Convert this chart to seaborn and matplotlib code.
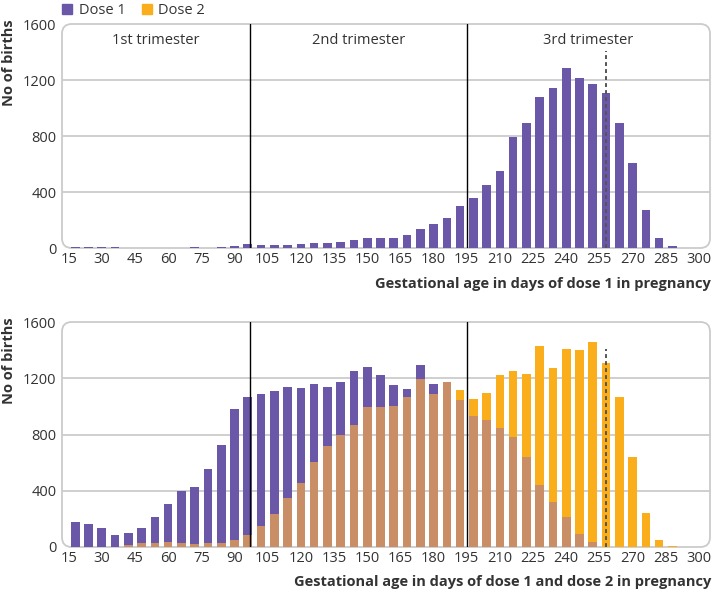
import numpy as np
import pandas as pd
import matplotlib
matplotlib.use("Agg")
import matplotlib.pyplot as plt
import matplotlib.transforms as mtransforms
from matplotlib.patches import FancyBboxPatch, Patch
import seaborn as sns

sns.set_theme(style="white")
plt.rcParams['font.family'] = ['Open Sans', 'DejaVu Sans']

# ---------------- data ----------------
days = [18, 24, 30, 36, 42, 48, 54, 60, 66, 72, 78, 84, 90, 96, 102, 108,
        114, 120, 126, 132, 138, 144, 150, 156, 162, 168, 174, 180, 186,
        192, 198, 204, 210, 216, 222, 228, 234, 240, 246, 252, 258, 264,
        270, 276, 282, 288]

top_dose1 = [10, 10, 7, 5, 0, 0, 0, 0, 0, 5, 0, 7, 12, 26, 19, 19,
             18, 30, 36, 36, 43, 55, 69, 74, 74, 90, 136, 169, 214,
             298, 357, 450, 550, 795, 890, 1079, 1145, 1288, 1217, 1174, 1110, 893,
             605, 269, 74, 14]

bottom_dose1 = [176, 162, 136, 83, 98, 136, 212, 305, 398, 424, 555, 726, 979, 1064, 1086, 1107,
                1140, 1131, 1162, 1140, 1176, 1252, 1283, 1221, 1150, 1124, 1293, 1162, 1172,
                1043, 929, 902, 843, 781, 643, 440, 319, 214, 95, 36, 0, 0,
                0, 0, 0, 0]

bottom_dose2 = [0, 0, 0, 0, 17, 29, 29, 36, 29, 19, 29, 29, 48, 88, 150, 236,
                345, 455, 607, 719, 800, 871, 993, 993, 1002, 1067, 1195, 1090, 1172,
                1114, 1052, 1095, 1221, 1255, 1229, 1431, 1276, 1407, 1398, 1455, 1310, 1064,
                643, 243, 50, 7]

x_ticks = [15, 30, 45, 60, 75, 90, 105, 120, 135, 150, 165, 180, 195, 210,
           225, 240, 255, 270, 285, 300]
y_ticks = [0, 400, 800, 1200, 1600]
trimester_labels = ["1st trimester", "2nd trimester", "3rd trimester"]
trimester_bounds = [97, 195]
term_day = 258
legend_labels = ["Dose 1", "Dose 2"]
y_label = "No of births"
x_label_top = "Gestational age in days of dose 1 in pregnancy"
x_label_bottom = "Gestational age in days of dose 1 and dose 2 in pregnancy"

# ---------------- style ----------------
PURPLE = "#6b57a8"
ORANGE = "#fbae1b"
BROWN = "#c98e66"
GRID = "#cbcbcb"
TEXT = "#333333"
XMIN, XMAX = 12, 305
FS = 10.5

W, H = 712, 593
fig = plt.figure(figsize=(W / 100, H / 100), dpi=100)


def ax_rect(l, t, r, b):
    return [l / W, 1 - b / H, (r - l) / W, (b - t) / H]


ax1 = fig.add_axes(ax_rect(62, 24, 710, 248))
ax2 = fig.add_axes(ax_rect(62, 322, 710, 547))

bar_kw = dict(native_scale=True, width=0.65, saturation=1, zorder=2,
              linewidth=0, edgecolor="none")

df_top = pd.DataFrame({"day": days, "n": top_dose1})
df_top = df_top[df_top["n"] > 0]
sns.barplot(data=df_top, x="day", y="n", color=PURPLE, ax=ax1, **bar_kw)

df_bot = pd.DataFrame({"day": days, "d1": bottom_dose1, "d2": bottom_dose2})
df_bot["both"] = np.minimum(df_bot["d1"], df_bot["d2"])
for col, colr in [("d1", PURPLE), ("d2", ORANGE), ("both", BROWN)]:
    sub = df_bot[df_bot[col] > 0]
    sns.barplot(data=sub, x="day", y=col, color=colr, ax=ax2, **bar_kw)


def style(ax):
    ax.set_xlim(XMIN, XMAX)
    ax.set_ylim(0, 1600)
    ax.set_xticks(x_ticks)
    ax.set_xticklabels([str(t) for t in x_ticks])
    ax.set_yticks(y_ticks)
    ax.set_yticklabels([str(t) for t in y_ticks])
    ax.tick_params(axis="both", length=0, labelsize=FS, colors=TEXT)
    ax.tick_params(axis="x", pad=3)
    ax.tick_params(axis="y", pad=4)
    ax.set_xlabel("")
    ax.set_ylabel("")
    ax.grid(False)
    for s in ax.spines.values():
        s.set_visible(False)
    for y in y_ticks[1:-1]:
        ax.axhline(y, color=GRID, lw=1.3, zorder=1)
    frame = FancyBboxPatch((0, 0), 1, 1,
                           boxstyle="round,pad=0,rounding_size=0.015",
                           mutation_aspect=648 / 224,
                           transform=ax.transAxes, fill=False, ec=GRID,
                           lw=1.3, clip_on=False, zorder=1)
    ax.add_patch(frame)
    for b in trimester_bounds:
        ax.axvline(b, color="black", lw=1.0, zorder=4)
    ax.plot([term_day, term_day], [0, 1410], ls=(0, (2, 1.6)),
            color="#555555", lw=1.4, zorder=4)


style(ax1)
style(ax2)

# trimester labels
trans = mtransforms.blended_transform_factory(ax1.transData, ax1.transAxes)
edges = [XMIN] + trimester_bounds + [XMAX]
for i, lab in enumerate(trimester_labels):
    ax1.text((edges[i] + edges[i + 1]) / 2, 0.925, lab, transform=trans,
             ha="center", va="center", fontsize=FS, color=TEXT)

# legend
handles = [Patch(color=PURPLE, label=legend_labels[0]),
           Patch(color=ORANGE, label=legend_labels[1])]
ax1.legend(handles=handles, loc="lower left", bbox_to_anchor=(0.0, 1.025),
           ncol=2, frameon=False, fontsize=FS, handlelength=0.7,
           handleheight=0.7, handletextpad=0.45, columnspacing=1.1,
           borderpad=0, borderaxespad=0, labelcolor=TEXT)

# axis titles
fig.text(9 / W, 1 - 19 / H, y_label, rotation=90, ha="center", va="top",
         fontsize=FS, fontweight="bold", color=TEXT)
fig.text(9 / W, 1 - 317 / H, y_label, rotation=90, ha="center", va="top",
         fontsize=FS, fontweight="bold", color=TEXT)
fig.text(711 / W, 1 - 284 / H, x_label_top, ha="right", va="center",
         fontsize=FS, fontweight="bold", color=TEXT)
fig.text(711 / W, 1 - 582 / H, x_label_bottom, ha="right", va="center",
         fontsize=FS, fontweight="bold", color=TEXT)

fig.savefig("out.png", dpi=100)
